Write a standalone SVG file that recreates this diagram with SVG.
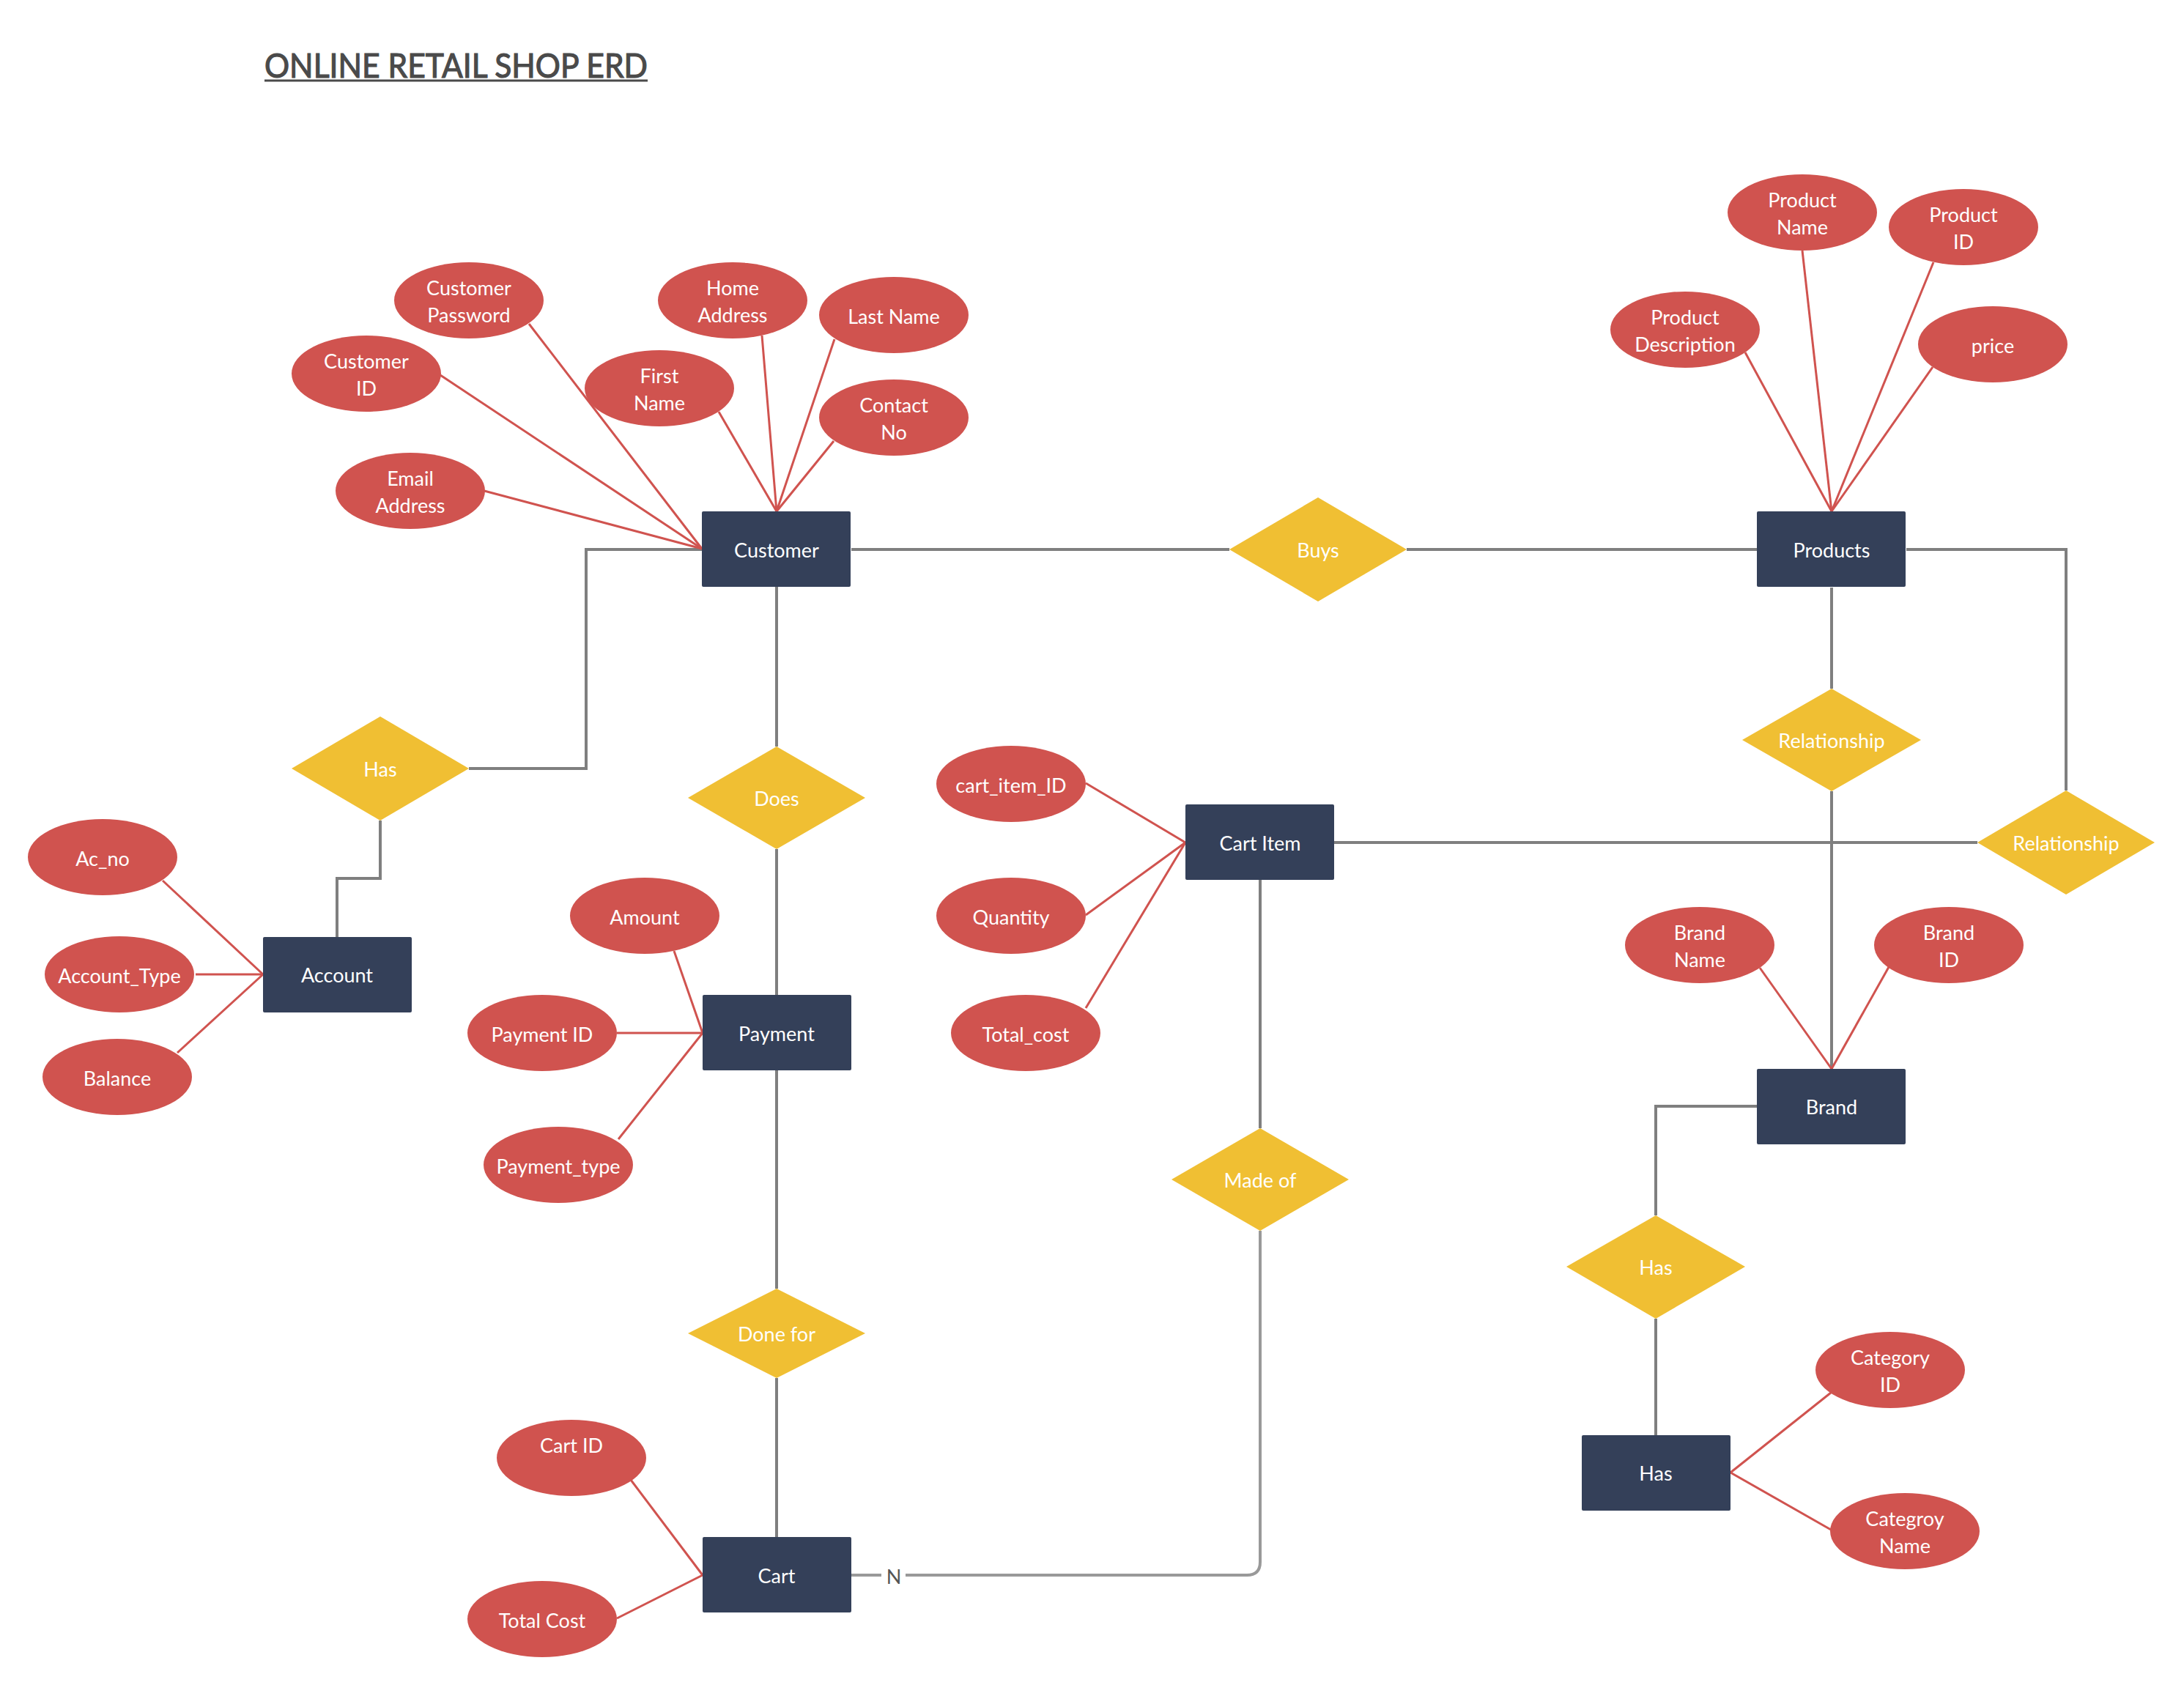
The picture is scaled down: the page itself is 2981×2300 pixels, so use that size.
<svg xmlns="http://www.w3.org/2000/svg" width="2981" height="2300" viewBox="0 0 2981 2300">
<style>
.bg{fill:#ffffff}
.ent{fill:#344059}
.rel{fill:#f0bf33}
.att{fill:#d0534f}
.t{font-family:Lato,"Liberation Sans",sans-serif;font-size:27px;fill:#ffffff;text-anchor:middle;dominant-baseline:central}
.g{fill:none;stroke:#7f7f7f;stroke-width:4}
.gl{fill:none;stroke:#999999;stroke-width:4}
.r{fill:none;stroke:#d0534f;stroke-width:3}
.title{font-family:Lato,"Liberation Sans",sans-serif;font-size:46px;fill:#4a4a4a;stroke:#4a4a4a;stroke-width:1.2}
.lbl{font-family:Lato,"Liberation Sans",sans-serif;font-size:27px;fill:#555555;text-anchor:middle;dominant-baseline:central}
</style>
<rect class="bg" x="0" y="0" width="2981" height="2300"/>
<g id="title">
<text class="title" x="361" y="106" textLength="523" lengthAdjust="spacingAndGlyphs">ONLINE RETAIL SHOP ERD</text>
<line x1="361" y1="110" x2="884" y2="110" stroke="#4a4a4a" stroke-width="3"/>
</g>
<g id="connectors">
<path class="g" d="M1162 750 H1678"/>
<path class="g" d="M1920 750 H2398"/>
<path class="g" d="M958 750 H800 V1049 H640"/>
<path class="g" d="M519 1120 V1199 H460 V1279"/>
<path class="g" d="M1060 801 V1019"/>
<path class="g" d="M1060 1159 V1358"/>
<path class="g" d="M1060 1461 V1759"/>
<path class="g" d="M1060 1881 V2098"/>
<path class="g" d="M2500 802 V940"/>
<path class="g" d="M2500 1080 V1459"/>
<path class="g" d="M2602 750 H2820 V1079"/>
<path class="g" d="M1821 1150 H2699"/>
<path class="g" d="M1720 1201 V1540"/>
<path class="gl" d="M1720 1680 V2132 Q1720 2150 1702 2150 H1236"/>
<path class="gl" d="M1203 2150 H1161"/>
<text class="lbl" x="1220" y="2151">N</text>
<path class="g" d="M2398 1510 H2260 V1659"/>
<path class="g" d="M2260 1800 V1959"/>
<path class="r" d="M661 670 L958 749"/>
<path class="r" d="M601 512 L958 749"/>
<path class="r" d="M722 442 L958 749"/>
<path class="r" d="M981 562 L1060 698"/>
<path class="r" d="M1040 458 L1060 698"/>
<path class="r" d="M1139 463 L1060 698"/>
<path class="r" d="M1138 602 L1060 698"/>
<path class="r" d="M2382 481 L2500 698"/>
<path class="r" d="M2460 342 L2500 698"/>
<path class="r" d="M2639 358 L2500 698"/>
<path class="r" d="M2638 501 L2500 698"/>
<path class="r" d="M222 1202 L359 1330"/>
<path class="r" d="M267 1330 L359 1330"/>
<path class="r" d="M242 1437 L359 1330"/>
<path class="r" d="M920 1298 L959 1410"/>
<path class="r" d="M842 1410 L959 1410"/>
<path class="r" d="M844 1555 L959 1410"/>
<path class="r" d="M1482 1069 L1618 1150"/>
<path class="r" d="M1482 1249 L1618 1150"/>
<path class="r" d="M1482 1376 L1618 1150"/>
<path class="r" d="M2402 1321 L2500 1459"/>
<path class="r" d="M2578 1320 L2500 1459"/>
<path class="r" d="M861 2020 L959 2150"/>
<path class="r" d="M842 2209 L959 2150"/>
<path class="r" d="M2499 1901 L2362 2010"/>
<path class="r" d="M2499 2088 L2362 2010"/>
</g>
<g id="customer"><rect class="ent" x="958" y="698" width="203" height="103" rx="2"/><text class="t" x="1060" y="750">Customer</text></g>
<g id="account"><rect class="ent" x="359" y="1279" width="203" height="103" rx="2"/><text class="t" x="460" y="1330">Account</text></g>
<g id="payment"><rect class="ent" x="959" y="1358" width="203" height="103" rx="2"/><text class="t" x="1060" y="1410">Payment</text></g>
<g id="cart"><rect class="ent" x="959" y="2098" width="203" height="103" rx="2"/><text class="t" x="1060" y="2150">Cart</text></g>
<g id="cart-item"><rect class="ent" x="1618" y="1098" width="203" height="103" rx="2"/><text class="t" x="1720" y="1150">Cart Item</text></g>
<g id="products"><rect class="ent" x="2398" y="698" width="203" height="103" rx="2"/><text class="t" x="2500" y="750">Products</text></g>
<g id="brand"><rect class="ent" x="2398" y="1459" width="203" height="103" rx="2"/><text class="t" x="2500" y="1510">Brand</text></g>
<g id="has-entity"><rect class="ent" x="2159" y="1959" width="203" height="103" rx="2"/><text class="t" x="2260" y="2010">Has</text></g>
<g id="buys"><polygon class="rel" points="1799,679 1920,750 1799,821 1678,750"/><text class="t" x="1799" y="750">Buys</text></g>
<g id="has-left"><polygon class="rel" points="519,978 640,1049 519,1120 398,1049"/><text class="t" x="519" y="1049">Has</text></g>
<g id="does"><polygon class="rel" points="1060,1019 1181,1089 1060,1159 939,1089"/><text class="t" x="1060" y="1089">Does</text></g>
<g id="done-for"><polygon class="rel" points="1060,1759 1181,1820 1060,1881 939,1820"/><text class="t" x="1060" y="1820">Done for</text></g>
<g id="relationship-top"><polygon class="rel" points="2500,940 2622,1010 2500,1080 2378,1010"/><text class="t" x="2500" y="1010">Relationship</text></g>
<g id="relationship-right"><polygon class="rel" points="2820,1079 2941,1150 2820,1221 2699,1150"/><text class="t" x="2820" y="1150">Relationship</text></g>
<g id="made-of"><polygon class="rel" points="1720,1540 1841,1610 1720,1680 1599,1610"/><text class="t" x="1720" y="1610">Made of</text></g>
<g id="has-right"><polygon class="rel" points="2260,1659 2382,1729 2260,1800 2138,1729"/><text class="t" x="2260" y="1729">Has</text></g>
<g id="customer-password"><ellipse class="att" cx="640" cy="410" rx="102" ry="52"/><text class="t" x="640" y="392">Customer</text><text class="t" x="640" y="429">Password</text></g>
<g id="customer-id"><ellipse class="att" cx="500" cy="510" rx="102" ry="52"/><text class="t" x="500" y="492">Customer</text><text class="t" x="500" y="529">ID</text></g>
<g id="email-address"><ellipse class="att" cx="560" cy="670" rx="102" ry="52"/><text class="t" x="560" y="652">Email</text><text class="t" x="560" y="689">Address</text></g>
<g id="home-address"><ellipse class="att" cx="1000" cy="410" rx="102" ry="52"/><text class="t" x="1000" y="392">Home</text><text class="t" x="1000" y="429">Address</text></g>
<g id="first-name"><ellipse class="att" cx="900" cy="530" rx="102" ry="52"/><text class="t" x="900" y="512">First</text><text class="t" x="900" y="549">Name</text></g>
<g id="last-name"><ellipse class="att" cx="1220" cy="430" rx="102" ry="52"/><text class="t" x="1220" y="431">Last Name</text></g>
<g id="contact-no"><ellipse class="att" cx="1220" cy="570" rx="102" ry="52"/><text class="t" x="1220" y="552">Contact</text><text class="t" x="1220" y="589">No</text></g>
<g id="product-name"><ellipse class="att" cx="2460" cy="290" rx="102" ry="52"/><text class="t" x="2460" y="272">Product</text><text class="t" x="2460" y="309">Name</text></g>
<g id="product-id"><ellipse class="att" cx="2680" cy="310" rx="102" ry="52"/><text class="t" x="2680" y="292">Product</text><text class="t" x="2680" y="329">ID</text></g>
<g id="product-description"><ellipse class="att" cx="2300" cy="450" rx="102" ry="52"/><text class="t" x="2300" y="432">Product</text><text class="t" x="2300" y="469">Description</text></g>
<g id="price"><ellipse class="att" cx="2720" cy="470" rx="102" ry="52"/><text class="t" x="2720" y="471">price</text></g>
<g id="ac-no"><ellipse class="att" cx="140" cy="1170" rx="102" ry="52"/><text class="t" x="140" y="1171">Ac_no</text></g>
<g id="account-type"><ellipse class="att" cx="163" cy="1330" rx="102" ry="52"/><text class="t" x="163" y="1331">Account_Type</text></g>
<g id="balance"><ellipse class="att" cx="160" cy="1470" rx="102" ry="52"/><text class="t" x="160" y="1471">Balance</text></g>
<g id="amount"><ellipse class="att" cx="880" cy="1250" rx="102" ry="52"/><text class="t" x="880" y="1251">Amount</text></g>
<g id="payment-id"><ellipse class="att" cx="740" cy="1410" rx="102" ry="52"/><text class="t" x="740" y="1411">Payment ID</text></g>
<g id="payment-type"><ellipse class="att" cx="762" cy="1590" rx="102" ry="52"/><text class="t" x="762" y="1591">Payment_type</text></g>
<g id="cart-item-id"><ellipse class="att" cx="1380" cy="1070" rx="102" ry="52"/><text class="t" x="1380" y="1071">cart_item_ID</text></g>
<g id="quantity"><ellipse class="att" cx="1380" cy="1250" rx="102" ry="52"/><text class="t" x="1380" y="1251">Quantity</text></g>
<g id="total-cost-item"><ellipse class="att" cx="1400" cy="1410" rx="102" ry="52"/><text class="t" x="1400" y="1411">Total_cost</text></g>
<g id="brand-name"><ellipse class="att" cx="2320" cy="1290" rx="102" ry="52"/><text class="t" x="2320" y="1272">Brand</text><text class="t" x="2320" y="1309">Name</text></g>
<g id="brand-id"><ellipse class="att" cx="2660" cy="1290" rx="102" ry="52"/><text class="t" x="2660" y="1272">Brand</text><text class="t" x="2660" y="1309">ID</text></g>
<g id="cart-id"><ellipse class="att" cx="780" cy="1990" rx="102" ry="52"/><text class="t" x="780" y="1972">Cart ID</text></g>
<g id="total-cost"><ellipse class="att" cx="740" cy="2210" rx="102" ry="52"/><text class="t" x="740" y="2211">Total Cost</text></g>
<g id="category-id"><ellipse class="att" cx="2580" cy="1870" rx="102" ry="52"/><text class="t" x="2580" y="1852">Category</text><text class="t" x="2580" y="1889">ID</text></g>
<g id="category-name"><ellipse class="att" cx="2600" cy="2090" rx="102" ry="52"/><text class="t" x="2600" y="2072">Categroy</text><text class="t" x="2600" y="2109">Name</text></g>
</svg>
